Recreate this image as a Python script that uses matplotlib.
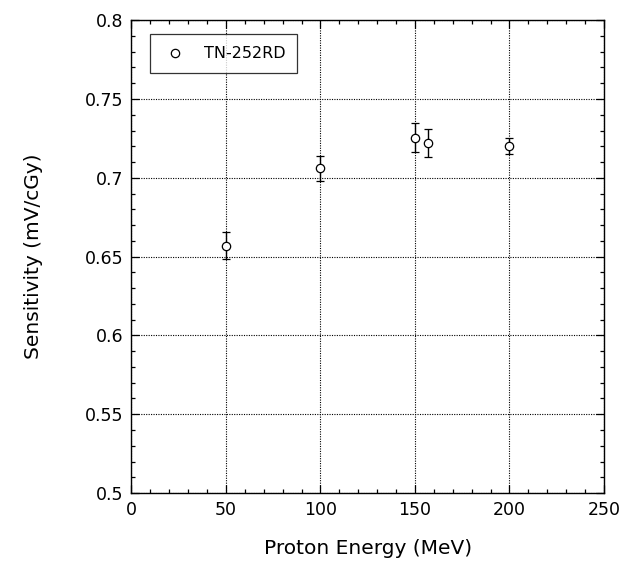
import matplotlib

matplotlib.use("Agg")
import matplotlib.pyplot as plt
from matplotlib.lines import Line2D
from matplotlib.ticker import MultipleLocator

# data
energy = [50, 100, 150, 157, 200]
sensitivity = [0.657, 0.706, 0.7255, 0.722, 0.720]
sens_err = [0.0085, 0.008, 0.009, 0.0087, 0.005]
series_label = "TN-252RD"

plt.rcParams["font.family"] = ["DejaVu Sans"]

fig = plt.figure(figsize=(6.23, 5.76), dpi=100, facecolor="white")
ax = fig.add_axes([0.211, 0.144, 0.7585, 0.821])

ax.errorbar(
    energy,
    sensitivity,
    yerr=sens_err,
    fmt="o",
    markersize=6,
    markerfacecolor="white",
    markeredgecolor="black",
    markeredgewidth=0.9,
    ecolor="black",
    elinewidth=1.0,
    capsize=2.7,
    capthick=1.0,
)

ax.set_xlim(0, 250)
ax.set_ylim(0.5, 0.8)
ax.xaxis.set_major_locator(MultipleLocator(50))
ax.xaxis.set_minor_locator(MultipleLocator(10))
ax.yaxis.set_minor_locator(MultipleLocator(0.01))
ax.set_yticks([0.5, 0.55, 0.6, 0.65, 0.7, 0.75, 0.8])
ax.set_yticklabels(["0.5", "0.55", "0.6", "0.65", "0.7", "0.75", "0.8"])

ax.tick_params(which="both", direction="in", top=True, right=True, color="black")
ax.tick_params(which="major", length=6, width=0.9, labelsize=12.5, pad=6)
ax.tick_params(which="minor", length=3, width=0.9)

ax.grid(True, which="major", linestyle=(0, (1, 1.2)), color="black", linewidth=0.8)
for spine in ax.spines.values():
    spine.set_linewidth(1.0)
    spine.set_color("black")

ax.set_xlabel("Proton Energy (MeV)", fontsize=14.5, labelpad=14)
ax.set_ylabel("Sensitivity (mV/cGy)", fontsize=14.5, labelpad=30)

handle = Line2D([], [], linestyle="none", marker="o", markersize=6,
                markerfacecolor="white", markeredgecolor="black", markeredgewidth=0.9)
leg = ax.legend(
    [handle],
    [series_label],
    loc="upper left",
    bbox_to_anchor=(0.04, 0.97),
    fontsize=11.5,
    frameon=True,
    fancybox=False,
    edgecolor="black",
    borderpad=0.75,
    handletextpad=1.0,
    handlelength=1.6,
    borderaxespad=0,
)
leg.get_frame().set_linewidth(0.9)

fig.savefig("out.png", dpi=100, facecolor="white")
